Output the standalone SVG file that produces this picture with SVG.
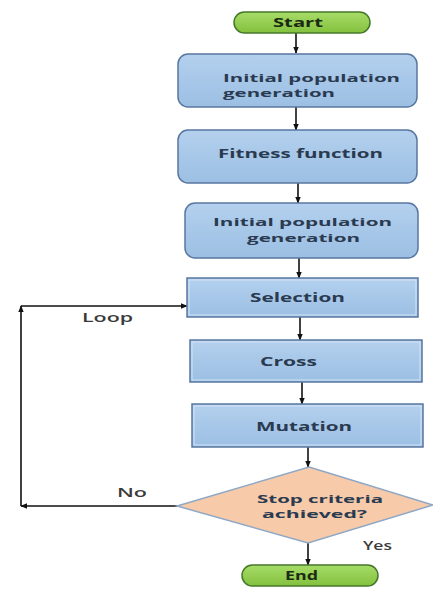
<svg xmlns="http://www.w3.org/2000/svg" width="433" height="590" viewBox="0 0 433 590">
<defs>
<linearGradient id="gBlue" x1="0" y1="0" x2="0" y2="1">
<stop offset="0" stop-color="#b4d0ee"/><stop offset="1" stop-color="#9bbfe3"/>
</linearGradient>
<linearGradient id="gGreen" x1="0" y1="0" x2="0" y2="1">
<stop offset="0" stop-color="#a6dc68"/><stop offset="1" stop-color="#84c13e"/>
</linearGradient>
<marker id="arr" viewBox="0 0 10 10" refX="9" refY="5" markerWidth="7" markerHeight="7" orient="auto" markerUnits="userSpaceOnUse">
<path d="M0,1 L10,5 L0,9 z" fill="#111"/>
</marker>
</defs>
<style>
.box{fill:url(#gBlue);stroke:#5877a0;stroke-width:1.5}
.hl{fill:none;stroke:#d3e4f6;stroke-width:1}
.pill{fill:url(#gGreen);stroke:#46782a;stroke-width:1.5}
.dia{fill:#f7caa9;stroke:#8fa8c6;stroke-width:1.5}
.t{font-family:"Open Sans","Liberation Sans",sans-serif;font-weight:700;font-size:13px;fill:#2a3a50}
.t2{font-family:"Open Sans","Liberation Sans",sans-serif;font-weight:700;font-size:11px;fill:#2a3a50}
.tg{font-family:"Open Sans","Liberation Sans",sans-serif;font-weight:700;font-size:13px;fill:#1c2a14}
.lab{font-family:"Open Sans","Liberation Sans",sans-serif;font-weight:600;font-size:12px;fill:#3a3a3a}
.c{stroke:#111;stroke-width:1.6;fill:none}
</style>
<g id="connectors">
<line class="c" x1="296" y1="33" x2="296" y2="53" marker-end="url(#arr)"/>
<line class="c" x1="296" y1="107" x2="296" y2="130" marker-end="url(#arr)"/>
<line class="c" x1="298" y1="183" x2="298" y2="203" marker-end="url(#arr)"/>
<line class="c" x1="299" y1="258" x2="299" y2="278" marker-end="url(#arr)"/>
<line class="c" x1="300" y1="317" x2="300" y2="340" marker-end="url(#arr)"/>
<line class="c" x1="302" y1="382" x2="302" y2="404" marker-end="url(#arr)"/>
<line class="c" x1="308" y1="447" x2="308" y2="467" marker-end="url(#arr)"/>
<line class="c" x1="308" y1="543" x2="308" y2="565" marker-end="url(#arr)"/>
<line class="c" x1="177" y1="506" x2="21" y2="506" marker-end="url(#arr)"/>
<line class="c" x1="21" y1="506" x2="21" y2="306" marker-end="url(#arr)"/>
<line class="c" x1="21" y1="306" x2="187" y2="306" marker-end="url(#arr)"/>
<text class="lab" x="82" y="322" textLength="51" lengthAdjust="spacingAndGlyphs">Loop</text>
<text class="lab" x="117" y="497" textLength="30" lengthAdjust="spacingAndGlyphs">No</text>
<text class="lab" x="363" y="550" textLength="29" lengthAdjust="spacingAndGlyphs">Yes</text>
</g>
<g id="start">
<rect class="pill" x="234" y="12" width="136" height="21" rx="10.5"/>
<text class="tg" x="273" y="27" textLength="50" lengthAdjust="spacingAndGlyphs">Start</text>
</g>
<g id="init1">
<rect class="box" x="178" y="54" width="239" height="53" rx="10"/>
<text class="t2" x="223" y="81.5" textLength="177" lengthAdjust="spacingAndGlyphs">Initial population</text>
<text class="t2" x="223" y="97" textLength="112" lengthAdjust="spacingAndGlyphs">generation</text>
</g>
<g id="fitness">
<rect class="box" x="178" y="130" width="239" height="53" rx="10"/>
<text class="t" x="218" y="158" textLength="165" lengthAdjust="spacingAndGlyphs">Fitness function</text>
</g>
<g id="init2">
<rect class="box" x="185" y="203" width="233" height="55" rx="10"/>
<text class="t2" x="213" y="226" textLength="179" lengthAdjust="spacingAndGlyphs">Initial population</text>
<text class="t2" x="247" y="241.5" textLength="113" lengthAdjust="spacingAndGlyphs">generation</text>
</g>
<g id="selection">
<rect class="box" x="187" y="278" width="231" height="39"/>
<rect class="hl" x="189" y="280" width="227" height="35"/>
<text class="t" x="250" y="302" textLength="95" lengthAdjust="spacingAndGlyphs">Selection</text>
</g>
<g id="cross">
<rect class="box" x="190" y="340" width="232" height="42"/>
<rect class="hl" x="192" y="342" width="228" height="38"/>
<text class="t" x="260" y="366" textLength="57" lengthAdjust="spacingAndGlyphs">Cross</text>
</g>
<g id="mutation">
<rect class="box" x="192" y="404" width="231" height="43"/>
<rect class="hl" x="194" y="406" width="227" height="39"/>
<text class="t" x="256" y="431" textLength="96" lengthAdjust="spacingAndGlyphs">Mutation</text>
</g>
<g id="decision">
<polygon class="dia" points="309,467 433,505 308,543 177,506"/>
<text class="t2" x="257" y="502.5" textLength="126" lengthAdjust="spacingAndGlyphs">Stop criteria</text>
<text class="t2" x="262" y="518" textLength="105" lengthAdjust="spacingAndGlyphs">achieved?</text>
</g>
<g id="end">
<rect class="pill" x="242" y="565" width="136" height="21" rx="10.5"/>
<text class="tg" x="285" y="580" textLength="33" lengthAdjust="spacingAndGlyphs">End</text>
</g>
</svg>
